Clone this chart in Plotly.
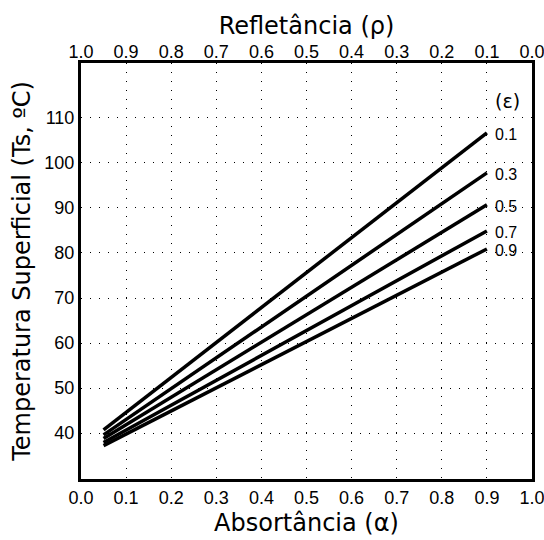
import plotly.graph_objects as go

# Data
emissivity_labels = ["0.1", "0.3", "0.5", "0.7", "0.9"]
absorptance = [0.05, 0.9]
ts_e01 = [40.7, 106.7]
ts_e03 = [39.6, 97.8]
ts_e05 = [38.8, 90.7]
ts_e07 = [37.9, 84.9]
ts_e09 = [37.2, 80.9]
series = [ts_e01, ts_e03, ts_e05, ts_e07, ts_e09]

x_ticks = [0.0, 0.1, 0.2, 0.3, 0.4, 0.5, 0.6, 0.7, 0.8, 0.9, 1.0]
x_ticklabels = ["0.0", "0.1", "0.2", "0.3", "0.4", "0.5", "0.6", "0.7", "0.8", "0.9", "1.0"]
refl_ticks = [1.0, 0.9, 0.8, 0.7, 0.6, 0.5, 0.4, 0.3, 0.2, 0.1, 0.0]
refl_ticklabels = ["1.0", "0.9", "0.8", "0.7", "0.6", "0.5", "0.4", "0.3", "0.2", "0.1", "0.0"]
y_ticks = [40, 50, 60, 70, 80, 90, 100, 110]

TITLE_FONT = dict(family="DejaVu Sans, Arial, sans-serif", size=24, color="black")
TICK_FONT = dict(family="Liberation Sans, Arial, sans-serif", size=18, color="black")
LABEL_FONT = dict(family="Liberation Sans, Arial, sans-serif", size=16, color="black")

fig = go.Figure()
for lab, ys in zip(emissivity_labels, series):
    fig.add_trace(go.Scatter(x=absorptance, y=ys, mode="lines",
                             line=dict(color="black", width=3.5),
                             name=lab, showlegend=False, hoverinfo="skip"))
    fig.add_annotation(x=absorptance[-1], y=ys[-1], text=lab, showarrow=False,
                       xanchor="left", yanchor="middle", xshift=6, yshift=-2,
                       font=LABEL_FONT)

# invisible trace on the top (reflectance) axis
fig.add_trace(go.Scatter(x=refl_ticks, y=[None] * len(refl_ticks), xaxis="x2",
                         mode="markers", showlegend=False, hoverinfo="skip"))

fig.add_annotation(x=absorptance[-1], y=113.8, text="(ε)", showarrow=False,
                   xanchor="left", yanchor="middle", xshift=6,
                   font=dict(family="DejaVu Sans, Arial, sans-serif", size=19, color="black"))

fig.update_layout(
    width=544, height=540,
    margin=dict(l=81, r=12, t=63, b=61, autoexpand=False),
    paper_bgcolor="white", plot_bgcolor="white",
    xaxis=dict(range=[0, 1], tickvals=x_ticks, ticktext=x_ticklabels,
               showgrid=True, gridcolor="black", gridwidth=1, griddash="1px,8px",
               zeroline=False, showline=True, linecolor="black", linewidth=3,
               mirror=True, ticks="", tickfont=TICK_FONT, automargin=False,
               ticklabeloverflow="allow",
               title=dict(text="Absortância (α)", font=TITLE_FONT, standoff=8)),
    xaxis2=dict(range=[1, 0], overlaying="x", side="top", tickvals=refl_ticks,
                ticktext=refl_ticklabels, showgrid=False, zeroline=False,
                showline=False, ticks="", tickfont=TICK_FONT, automargin=False,
                ticklabeloverflow="allow",
                title=dict(text="Refletância (ρ)", font=TITLE_FONT, standoff=1)),
    yaxis=dict(range=[29.8, 122.2], tickvals=y_ticks,
               showgrid=True, gridcolor="black", gridwidth=1, griddash="1px,8px",
               zeroline=False, showline=True, linecolor="black", linewidth=3,
               mirror=True, ticks="", tickfont=TICK_FONT, automargin=False,
               ticklabeloverflow="allow",
               title=dict(text="Temperatura Superficial (Ts, ºC)", font=TITLE_FONT, standoff=7)),
)

fig.write_html("out.html")
